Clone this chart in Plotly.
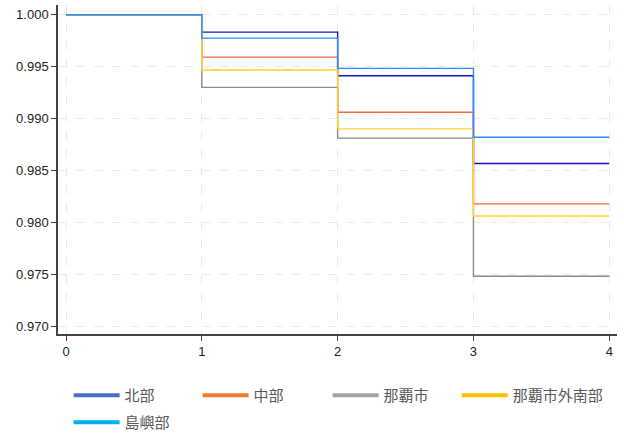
import plotly.graph_objects as go

# Kaplan-Meier style step survival by region
times = [0, 1, 2, 3, 4]
regions = ["北部", "中部", "那覇市", "那覇市外南部", "島嶼部"]

surv_hokubu = [1.0, 0.99833, 0.99412, 0.98567, 0.98567]
surv_chubu = [1.0, 0.99592, 0.99061, 0.98177, 0.98177]
surv_naha = [1.0, 0.99300, 0.98811, 0.97479, 0.97479]
surv_nanbu = [1.0, 0.99467, 0.98900, 0.98061, 0.98061]
surv_tosho = [1.0, 0.99775, 0.99483, 0.98820, 0.98820]

series = [surv_hokubu, surv_chubu, surv_naha, surv_nanbu, surv_tosho]
line_colors = ["#1414C8", "#F5693A", "#8A8A8A", "#FFD42A", "#2A8CFA"]
legend_colors = ["#4472C4", "#ED7D31", "#A5A5A5", "#FFC000", "#00B0F0"]

y_ticks = [0.970, 0.975, 0.980, 0.985, 0.990, 0.995, 1.000]

# one small legend box per entry so the grid of keys can be laid out freely
legend_ids = ["legend", "legend2", "legend3", "legend4", "legend5"]
legend_xy = [(0.019, -0.137), (0.2497, -0.137), (0.4823, -0.137),
             (0.7134, -0.137), (0.019, -0.219)]

fig = go.Figure()

for name, vals, lc in zip(regions, series, line_colors):
    fig.add_trace(go.Scatter(
        x=times, y=vals, mode="lines", name=name,
        line=dict(color=lc, width=1.4, shape="hv"),
        showlegend=False, hoverinfo="skip",
    ))

for name, lc, lid in zip(regions, legend_colors, legend_ids):
    fig.add_trace(go.Scatter(
        x=[None], y=[None], mode="lines", name=name,
        line=dict(color=lc, width=4), legend=lid,
    ))

legend_style = dict(
    orientation="v", xanchor="left", yanchor="top", itemwidth=46,
    font=dict(family="Noto Sans CJK JP, sans-serif", size=15, color="#595959"),
    bgcolor="rgba(0,0,0,0)",
)
legend_layout = {
    lid: dict(x=lx, y=ly, **legend_style)
    for lid, (lx, ly) in zip(legend_ids, legend_xy)
}

fig.update_layout(
    width=624, height=433,
    margin=dict(l=58, r=7, t=5, b=99, autoexpand=False),
    paper_bgcolor="white", plot_bgcolor="white",
    font=dict(family="Liberation Sans, Arial, sans-serif", size=12, color="#222"),
    xaxis=dict(
        range=[-0.059, 4.057], tickvals=times, ticks="outside", ticklen=5,
        tickcolor="#444", showline=True, linecolor="#444", linewidth=1.5,
        showgrid=True, gridcolor="#ebebeb", griddash="dash", gridwidth=1,
        zeroline=False, tickfont=dict(size=13, color="#222"),
    ),
    yaxis=dict(
        range=[0.96923, 1.00094], tickvals=y_ticks, tickformat=".3f",
        ticks="outside", ticklen=5, tickcolor="#444",
        showline=True, linecolor="#444", linewidth=1.5,
        showgrid=True, gridcolor="#ebebeb", griddash="dash", gridwidth=1,
        zeroline=False, tickfont=dict(size=13, color="#222"),
    ),
    **legend_layout,
)

fig.write_html("out.html")
